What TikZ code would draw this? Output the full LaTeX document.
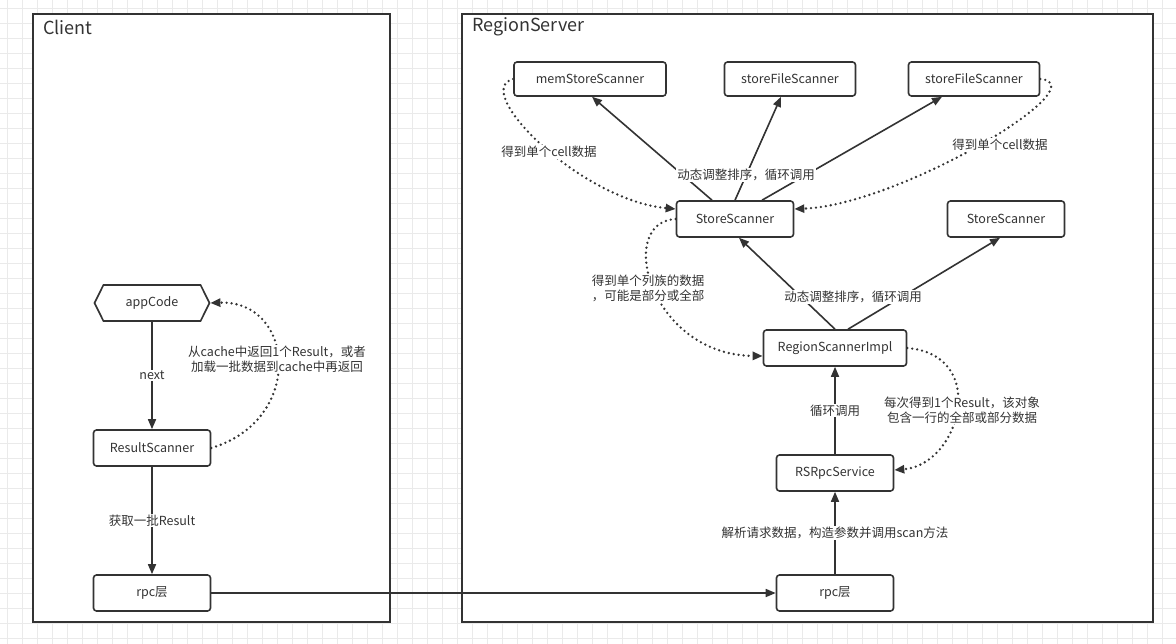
\documentclass[tikz,border=0pt]{standalone}
\usepackage{fontspec}
\setmainfont{Noto Sans CJK SC}
\usepackage{xcolor}
\usepackage{tikz}
\usetikzlibrary{shapes.symbols, arrows.meta, positioning, calc}
\definecolor{ink}{HTML}{333333}
\definecolor{gridc}{HTML}{EAEAEA}

\begin{document}
\begin{tikzpicture}[
    x=1pt, y=-1pt,
    font=\fontsize{12.5}{15}\selectfont, text=ink,
    frame/.style={draw=ink, line width=2pt, fill=white},
    title/.style={anchor=west, inner sep=0pt, font=\fontsize{18}{20}\selectfont},
    scanbox/.style={rectangle, rounded corners=3pt, draw=ink, line width=1.6pt, fill=white, minimum width=117pt, minimum height=36pt, inner sep=0pt},
    hexbox/.style={signal, signal to=west and east, signal pointer angle=127, draw=ink, line width=1.6pt, fill=white, minimum width=115pt, minimum height=36pt, inner sep=0pt},
    arrow/.style={draw=ink, line width=1.6pt, -{Triangle[length=10pt,width=8pt]}},
    dotarrow/.style={arrow, line width=2.6pt, line cap=round, dash pattern=on 0pt off 5pt},
    lbl/.style={fill=white, inner sep=1pt, align=center}
]
    \useasboundingbox (0,0) rectangle (1176,644);
    \fill[white] (0,0) rectangle (1176,644);
    % background grid
    \foreach \gx in {7,22,...,1176} \draw[gridc, line width=0.8pt] (\gx,0) -- (\gx,644);
    \foreach \gy in {8,23,...,644} \draw[gridc, line width=0.8pt] (0,\gy) -- (1176,\gy);

    % containers
    \draw[frame] (33,14) rectangle (390,622);
    \draw[frame] (462,14) rectangle (1153,622);
    \node (clientT) [title] at (43,27) {Client};
    \node (serverT) [title] at (472,27) {RegionServer};

    % client side
    \node (app) [hexbox] at (152,303) {appCode};
    \node (result) [scanbox] at (152,448) {ResultScanner};
    \node (rpcC) [scanbox] at (152,593) {rpc层};

    % region server side
    \node (rpcS) [scanbox] at (835,593) {rpc层};
    \node (rpcsvc) [scanbox] at (835,473) {RSRpcService};
    \node (rsi) [scanbox, minimum width=143pt] at (835,348) {RegionScannerImpl};
    \node (ss1) [scanbox] at (735,219) {StoreScanner};
    \node (ss2) [scanbox] at (1006,219) {StoreScanner};
    \node (mem) [scanbox, minimum width=152pt, minimum height=34pt] at (590,79) {memStoreScanner};
    \node (sfs1) [scanbox, minimum width=131pt, minimum height=34pt] at (790,79) {storeFileScanner};
    \node (sfs2) [scanbox, minimum width=131pt, minimum height=34pt] at (974,79) {storeFileScanner};

    \draw [arrow] (app) -- node[lbl] {next} (result);
    \draw [arrow] (result) -- node[lbl] {获取一批Result} (rpcC);
    \draw [arrow] (rpcC) -- (rpcS);
    \draw [arrow] (rpcS) -- node[lbl] {解析请求数据，构造参数并调用scan方法} (rpcsvc);
    \draw [arrow] (rpcsvc) -- node[lbl] {循环调用} (rsi);
    \draw [arrow] (rsi.north) -- ([xshift=4pt]ss1.south);
    \draw [arrow] ([xshift=13pt]rsi.north) -- ([xshift=-6pt]ss2.south);
    \draw [arrow] ([xshift=-23pt]ss1.north) -- ([xshift=2pt]mem.south);
    \draw [arrow] (ss1.north) -- ([xshift=-9pt]sfs1.south);
    \draw [arrow] ([xshift=27pt]ss1.north) -- ([xshift=-32pt]sfs2.south);

    \draw [dotarrow] (result.east) .. controls (305,420) and (295,300) .. (app.east);
    \draw [dotarrow] (mem.west) .. controls (470,90) and (580,200) .. ([yshift=10pt]ss1.west);
    \draw [dotarrow] (sfs2.east) .. controls (1100,85) and (900,205) .. ([yshift=10pt]ss1.east);
    \draw [dotarrow] (ss1.west) .. controls (615,222) and (650,355) .. ([yshift=-8pt]rsi.west);
    \draw [dotarrow] (rsi.east) .. controls (990,355) and (960,465) .. ([yshift=3pt]rpcsvc.east);

    \node (fanA) [lbl] at (746,175) {动态调整排序，循环调用};
    \node (fanB) [lbl] at (853,297) {动态调整排序，循环调用};
    \node (cellA) [lbl] at (549,152) {得到单个cell数据};
    \node (cellB) [lbl] at (1000,145) {得到单个cell数据};
    \node (family) [lbl] at (648,288) {得到单个列族的数据\\，可能是部分或全部};
    \node (cache) [lbl] at (277,359) {从cache中返回1个Result，或者\\加载一批数据到cache中再返回};
    \node (row) [lbl] at (962,410) {每次得到1个Result，该对象\\包含一行的全部或部分数据};
\end{tikzpicture}
\end{document}
